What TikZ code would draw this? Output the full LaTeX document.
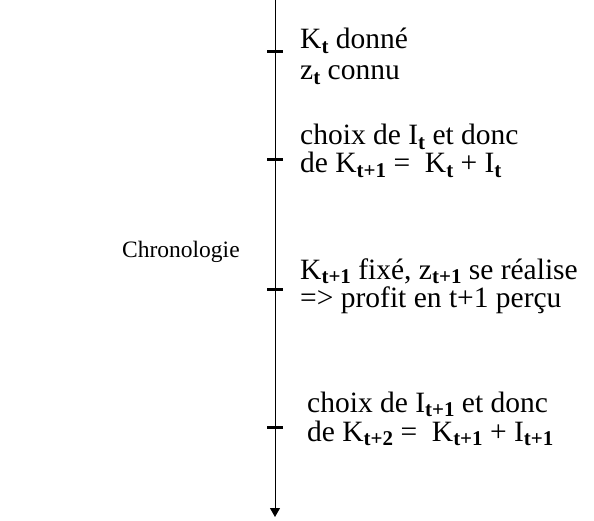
\documentclass[tikz,border=0pt]{standalone}
\usepackage{fontspec}
\setmainfont{Liberation Serif}
\usetikzlibrary{arrows.meta}
% bold, lowered subscript
\newcommand\sbx[1]{\raisebox{-4.5pt}{\fontsize{21}{21}\selectfont\bfseries #1}}
\begin{document}
\begin{tikzpicture}[x=1pt,y=-1pt,
  txt/.style={anchor=base west,inner sep=0pt,align=left,font=\fontsize{29.5}{28}\selectfont},
  lbl/.style={anchor=base west,inner sep=0pt,font=\fontsize{23.5}{28}\selectfont},
  tick/.style={line width=3pt},
  axis/.style={line width=1pt,-{Triangle[width=10pt,length=9pt]}}]
\useasboundingbox (0,0) rectangle (594,521);
\coordinate (top) at (275,0);
\coordinate (bot) at (275,517);
\draw[axis] (top) -- (bot);
% event marks on the time axis
\foreach \n/\y in {a/52,b/160,c/289,d/427}{
  \coordinate (\n l) at (267,\y);
  \coordinate (\n r) at (283,\y);
  \draw[tick] (\n l) -- (\n r);
}
\node[lbl] (chrono) at (122,258) {Chronologie};
% each block: the anchor sits on the baseline of its last line
\node[txt] (a) at (300,80) {K\sbx{t} donné\\[3pt]z\sbx{t} connu};
\node[txt] (b) at (300,173) {choix de I\sbx{t} et donc\\de K\sbx{t+1} =~ K\sbx{t} + I\sbx{t}};
\node[txt] (c) at (300,307) {K\sbx{t+1} fixé, z\sbx{t+1} se réalise\\=> profit en t+1 perçu};
\node[txt] (d) at (307,441) {choix de I\sbx{t+1} et donc\\[1pt]de K\sbx{t+2} =~ K\sbx{t+1} + I\sbx{t+1}};
\end{tikzpicture}
\end{document}
